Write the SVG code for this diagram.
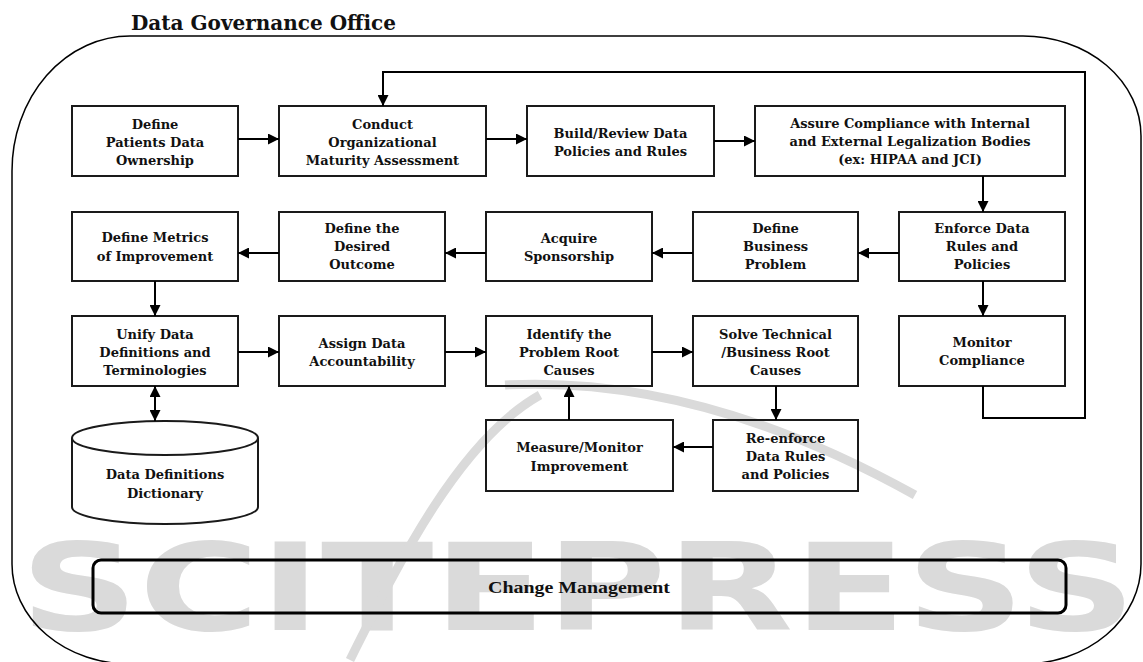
<svg xmlns="http://www.w3.org/2000/svg" width="1143" height="662" viewBox="0 0 1143 662">
<defs>
<marker id="ah" markerUnits="userSpaceOnUse" markerWidth="11" markerHeight="11" refX="11" refY="5.5" orient="auto-start-reverse"><path d="M0,0 L11,5.5 L0,11 z" fill="#000"/></marker>
</defs>
<style>
.box{fill:none;stroke:#1a1a1a;stroke-width:2}
.t{font-family:"DejaVu Serif","Liberation Serif",serif;font-weight:bold;font-size:13px;fill:#111;text-anchor:middle}
.c{fill:none;stroke:#000;stroke-width:2;marker-end:url(#ah)}
.wm{fill:#dadada}
.ws{fill:none;stroke:#dadada;stroke-width:9}
</style>
<rect width="1143" height="662" fill="#fff"/>
<g id="watermark">
<text class="wm" x="20" y="630" font-family="DejaVu Sans, sans-serif" font-weight="bold" font-size="122" textLength="1116" lengthAdjust="spacingAndGlyphs">SCITEPRESS</text>
<path class="ws" d="M350,660 C400,560 460,440 540,395"/>
<path class="ws" d="M505,385 Q700,375 915,495"/>
</g>
<path id="office" d="M130,36 H1023 A118,100 0 0 1 1141,136 V564 A118,100 0 0 1 1023,664 H130 A118,100 0 0 1 12,564 V171 A118,135 0 0 1 130,36 Z" fill="none" stroke="#000" stroke-width="1.5"/>
<text x="131" y="30" font-family="DejaVu Serif, serif" font-weight="bold" font-size="20" fill="#111">Data Governance Office</text>

<g id="n1"><rect class="box" x="72" y="106" width="166" height="70"/><text class="t" x="155" y="128.5">Define</text><text class="t" x="155" y="146.5">Patients Data</text><text class="t" x="155" y="164.5">Ownership</text></g>
<g id="n2"><rect class="box" x="279" y="106" width="207" height="70"/><text class="t" x="382.5" y="128.5">Conduct</text><text class="t" x="382.5" y="146.5">Organizational</text><text class="t" x="382.5" y="164.5">Maturity Assessment</text></g>
<g id="n3"><rect class="box" x="527" y="106" width="187" height="70"/><text class="t" x="620.5" y="137.5">Build/Review Data</text><text class="t" x="620.5" y="155.5">Policies and Rules</text></g>
<g id="n4"><rect class="box" x="755" y="106" width="310" height="70"/><text class="t" x="910" y="127.5">Assure Compliance with Internal</text><text class="t" x="910" y="145.5">and External Legalization Bodies</text><text class="t" x="910" y="163.5">(ex: HIPAA and JCI)</text></g>
<g id="n5"><rect class="box" x="899" y="212" width="166" height="69"/><text class="t" x="982" y="232.5">Enforce Data</text><text class="t" x="982" y="250.5">Rules and</text><text class="t" x="982" y="268.5">Policies</text></g>
<g id="n6"><rect class="box" x="693" y="212" width="165" height="69"/><text class="t" x="775.5" y="232.5">Define</text><text class="t" x="775.5" y="250.5">Business</text><text class="t" x="775.5" y="268.5">Problem</text></g>
<g id="n7"><rect class="box" x="486" y="212" width="166" height="69"/><text class="t" x="569" y="242.5">Acquire</text><text class="t" x="569" y="260.5">Sponsorship</text></g>
<g id="n8"><rect class="box" x="279" y="212" width="166" height="69"/><text class="t" x="362" y="232.5">Define the</text><text class="t" x="362" y="250.5">Desired</text><text class="t" x="362" y="268.5">Outcome</text></g>
<g id="n9"><rect class="box" x="72" y="212" width="166" height="69"/><text class="t" x="155" y="241.5">Define Metrics</text><text class="t" x="155" y="260.5">of Improvement</text></g>
<g id="n10"><rect class="box" x="72" y="316" width="166" height="70"/><text class="t" x="155" y="338.5">Unify Data</text><text class="t" x="155" y="356.5">Definitions and</text><text class="t" x="155" y="374.5">Terminologies</text></g>
<g id="n11"><rect class="box" x="279" y="316" width="166" height="70"/><text class="t" x="362" y="347.5">Assign Data</text><text class="t" x="362" y="365.5">Accountability</text></g>
<g id="n12"><rect class="box" x="486" y="316" width="166" height="70"/><text class="t" x="569" y="338.5">Identify the</text><text class="t" x="569" y="356.5">Problem Root</text><text class="t" x="569" y="374.5">Causes</text></g>
<g id="n13"><rect class="box" x="693" y="316" width="165" height="70"/><text class="t" x="775.5" y="338.5">Solve Technical</text><text class="t" x="775.5" y="356.5">/Business Root</text><text class="t" x="775.5" y="374.5">Causes</text></g>
<g id="n14"><rect class="box" x="899" y="316" width="166" height="70"/><text class="t" x="982" y="346.5">Monitor</text><text class="t" x="982" y="364.5">Compliance</text></g>
<g id="n15"><rect class="box" x="486" y="420" width="187" height="71"/><text class="t" x="579.5" y="451.5">Measure/Monitor</text><text class="t" x="579.5" y="470.5">Improvement</text></g>
<g id="n16"><rect class="box" x="713" y="420" width="145" height="71"/><text class="t" x="785.5" y="442.5">Re-enforce</text><text class="t" x="785.5" y="460.5">Data Rules</text><text class="t" x="785.5" y="478.5">and Policies</text></g>
<g id="n17"><path class="box" d="M72,438 V507 A93,17 0 0 0 258,507 V438"/><ellipse class="box" cx="165" cy="438" rx="93" ry="17"/><text class="t" x="165" y="478.5">Data Definitions</text><text class="t" x="165" y="497.5">Dictionary</text></g>
<g id="n18"><rect x="93" y="560" width="973" height="53" rx="8" fill="none" stroke="#000" stroke-width="3"/><text x="579" y="593" font-family="Liberation Serif, serif" font-weight="bold" font-size="16" fill="#111" text-anchor="middle" textLength="182" lengthAdjust="spacingAndGlyphs">Change Management</text></g>

<g id="connectors">
<path class="c" d="M238,139 H279"/>
<path class="c" d="M486,139 H527"/>
<path class="c" d="M714,141 H755"/>
<path class="c" d="M983,176 V212"/>
<path class="c" d="M899,253 H858"/>
<path class="c" d="M693,253 H652"/>
<path class="c" d="M486,253 H445"/>
<path class="c" d="M279,253 H238"/>
<path class="c" d="M155,281 V316"/>
<path class="c" d="M238,352 H279"/>
<path class="c" d="M445,352 H486"/>
<path class="c" d="M652,352 H693"/>
<path class="c" d="M776,386 V420"/>
<path class="c" d="M713,447 H673"/>
<path class="c" d="M569,420 V386"/>
<path class="c" d="M983,281 V316"/>
<path class="c" d="M983,386 V418 H1085 V72 H383 V106"/>
<path class="c" d="M155,386 V421" marker-start="url(#ah)"/>
</g>
</svg>
